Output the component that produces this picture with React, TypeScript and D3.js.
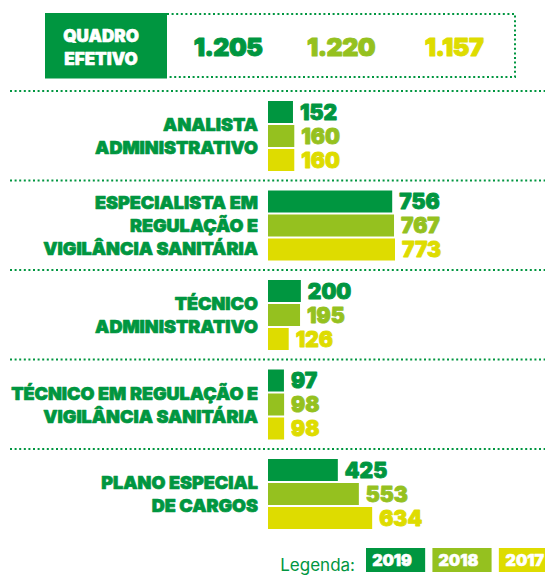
import React from "react";
import * as d3 from "d3";

const years = ["2019", "2018", "2017"];
const colors = ["#009640", "#95c11f", "#dedc00"];
const totals = ["1.205", "1.220", "1.157"];
const categories = [
  ["ANALISTA", "ADMINISTRATIVO"],
  ["ESPECIALISTA EM", "REGULAÇÃO E", "VIGILÂNCIA SANITÁRIA"],
  ["TÉCNICO", "ADMINISTRATIVO"],
  ["TÉCNICO EM REGULAÇÃO E", "VIGILÂNCIA SANITÁRIA"],
  ["PLANO ESPECIAL", "DE CARGOS"],
];
const values2019 = [152, 756, 200, 97, 425];
const values2018 = [160, 767, 195, 98, 553];
const values2017 = [160, 773, 126, 98, 634];
const titleLines = ["QUADRO", "EFETIVO"];
const legendTitle = "Legenda:";

const FONT = "Inter, 'Open Sans', sans-serif";
const W = 545;
const H = 575;

function heavy(color: string, sw = 0.7) {
  return { fill: color, stroke: color, strokeWidth: sw, strokeLinejoin: "round" as const, paintOrder: "stroke" };
}

export default function App() {
  const series = [values2019, values2018, values2017];
  const maxV = d3.max(series.flat()) as number;
  const x = d3.scaleLinear().domain([0, maxV]).range([0, 127]);
  const barX0 = 268;
  const groupY = d3
    .scaleBand<number>()
    .domain(d3.range(categories.length))
    .range([91, 91 + 89.5 * categories.length]);
  const innerY = d3.scaleBand<string>().domain(years).range([10, 80]).paddingInner(1 / 12);
  const totalX = d3.scalePoint<string>().domain(years).range([228, 454]);
  const legendX = d3.scaleBand<string>().domain(years).range([366, 366 + 64 * 3]).paddingInner(7 / 64);
  const dot = { stroke: "#009640", strokeWidth: 2, strokeDasharray: "2 2.6", fill: "none" };

  return (
    <svg width={W} height={H} style={{ position: "absolute", left: 0, top: 0 }} fontFamily={FONT}>
      {/* header box */}
      <rect x={45} y={13} width={122} height={65.5} fill="#009640" />
      {titleLines.map((t, i) => (
        <text key={t} x={101} y={41.7 + i * 23.3} textAnchor="middle" fontSize={17} fontWeight={900} {...heavy("#fff", 0.6)}>
          {t}
        </text>
      ))}
      <path d={`M167,14H515V77H167`} {...dot} />
      {totals.map((t, i) => (
        <text key={t} x={totalX(years[i])} y={55.5} textAnchor="middle" fontSize={25} fontWeight={900} letterSpacing={-0.5} {...heavy(colors[i], 1)}>
          {t}
        </text>
      ))}

      {categories.map((lines, gi) => {
        const top = groupY(gi) as number;
        const center = top + 45;
        const n = lines.length;
        const lh = 23;
        return (
          <g key={gi}>
            <line x1={10} x2={W} y1={top} y2={top} {...dot} />
            {lines.map((l, li) => (
              <text
                key={li}
                x={258}
                y={center - ((n - 1) * lh) / 2 + li * lh + 6.5}
                textAnchor="end"
                fontSize={18}
                fontWeight={900}
                {...heavy("#009640", 0.7)}
              >
                {l}
              </text>
            ))}
            {series.map((vals, si) => {
              const y = top + (innerY(years[si]) as number);
              const w = x(vals[gi]);
              return (
                <g key={si}>
                  <rect x={barX0} y={y} width={w} height={innerY.bandwidth()} fill={colors[si]} />
                  <text
                    x={barX0 + w + 7}
                    y={y + innerY.bandwidth() / 2 + 7.5}
                    fontSize={21}
                    fontWeight={900}
                    {...heavy(colors[si], 0.9)}
                  >
                    {vals[gi]}
                  </text>
                </g>
              );
            })}
          </g>
        );
      })}

      {/* legend */}
      <text x={355} y={571} textAnchor="end" fill="#009640" fontSize={17} fontWeight={400}>
        {legendTitle}
      </text>
      {years.map((yr, i) => (
        <g key={yr}>
          <rect x={legendX(yr)} y={548} width={legendX.bandwidth()} height={24} fill={colors[i]} />
          <text x={(legendX(yr) as number) + 26} y={566} textAnchor="middle" fontSize={16} fontWeight={900} {...heavy("#fff", 0.6)}>
            {yr}
          </text>
        </g>
      ))}
    </svg>
  );
}
